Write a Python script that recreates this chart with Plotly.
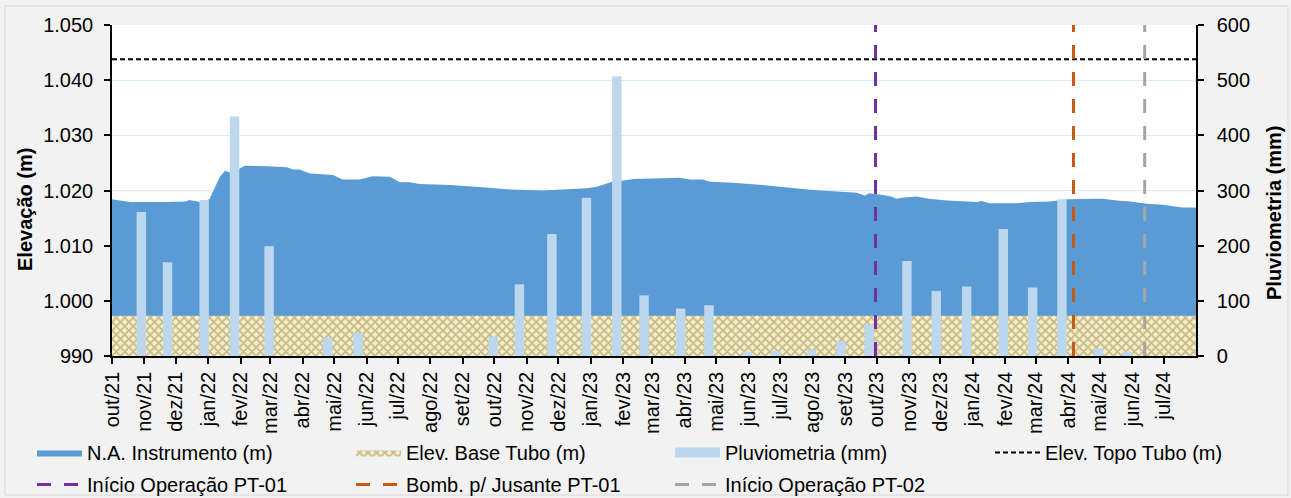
import plotly.graph_objects as go

# --- Nível d'água no instrumento (m) ---
na_dates = [
    "2021-10-01", "2021-10-18", "2021-11-22", "2021-12-02", "2021-12-10", "2021-12-14",
    "2021-12-24", "2022-01-02", "2022-01-12", "2022-01-17", "2022-01-21", "2022-01-28",
    "2022-02-05", "2022-02-26", "2022-03-17", "2022-03-23", "2022-03-29", "2022-04-08",
    "2022-04-30", "2022-05-09", "2022-05-25", "2022-06-07", "2022-06-23", "2022-07-03",
    "2022-07-12", "2022-07-22", "2022-08-20", "2022-09-20", "2022-10-16", "2022-11-16",
    "2022-12-02", "2022-12-28", "2023-01-07", "2023-01-20", "2023-02-11", "2023-03-15",
    "2023-03-27", "2023-04-06", "2023-04-18", "2023-04-25", "2023-05-17", "2023-06-14",
    "2023-07-03", "2023-08-01", "2023-09-05", "2023-09-12", "2023-09-20", "2023-09-24",
    "2023-10-07", "2023-10-15", "2023-10-20", "2023-10-25", "2023-11-08", "2023-11-20",
    "2023-12-07", "2023-12-22", "2024-01-05", "2024-01-09", "2024-01-17", "2024-02-12",
    "2024-02-24", "2024-03-14", "2024-03-31", "2024-04-28", "2024-05-04", "2024-05-17",
    "2024-05-30", "2024-06-15", "2024-06-30", "2024-07-19", "2024-08-01",
]
na_values = [
    1018.4, 1017.9, 1017.9, 1018.0, 1018.0, 1018.3,
    1017.9, 1018.4, 1022.5, 1023.6, 1023.3, 1023.7,
    1024.5, 1024.4, 1024.2, 1023.8, 1023.8, 1023.1,
    1022.8, 1022.0, 1022.0, 1022.6, 1022.5, 1021.5,
    1021.5, 1021.2, 1021.0, 1020.6, 1020.2, 1020.0,
    1020.2, 1020.4, 1020.7, 1021.5, 1022.1, 1022.2,
    1022.3, 1022.0, 1022.0, 1021.6, 1021.4, 1021.0,
    1020.6, 1020.1, 1019.7, 1019.6, 1019.1, 1019.5,
    1019.2, 1018.9, 1018.5, 1018.7, 1018.9, 1018.5,
    1018.2, 1018.0, 1017.9, 1018.1, 1017.7, 1017.7,
    1017.9, 1018.0, 1018.4, 1018.5, 1018.5, 1018.2,
    1018.0, 1017.6, 1017.4, 1016.9, 1016.9,
]

# --- Pluviometria mensal (mm) ---
rain_dates = [
    "2021-10-29", "2021-11-23", "2021-12-28", "2022-01-26", "2022-02-28", "2022-04-25",
    "2022-05-24", "2022-09-30", "2022-10-25", "2022-11-25", "2022-12-28", "2023-01-26",
    "2023-02-21", "2023-03-28", "2023-04-24", "2023-05-31", "2023-06-27", "2023-07-31",
    "2023-08-28", "2023-09-24", "2023-10-30", "2023-11-27", "2023-12-26", "2024-01-30",
    "2024-02-27", "2024-03-26", "2024-04-30", "2024-05-27",
]
rain_values = [
    261, 170, 283, 434, 199, 33,
    42, 35, 130, 221, 287, 507,
    110, 86, 92, 8, 9, 11,
    27, 57, 172, 118, 126, 230,
    124, 284, 14, 8,
]

# --- Cotas do tubo (m) ---
period = ["2021-10-01", "2024-08-01"]
base_tubo = 997.3
topo_tubo = 1043.8

# --- Eventos ---
evt_pt01 = "2023-09-30"
evt_bomb = "2024-04-06"
evt_pt02 = "2024-06-13"

# --- Rótulos do eixo x ---
month_abbr = ["jan", "fev", "mar", "abr", "mai", "jun", "jul", "ago", "set", "out", "nov", "dez"]
tick_vals = []
tick_text = []
y, m = 2021, 10
while (y, m) <= (2024, 7):
    tick_vals.append(f"{y}-{m:02d}-01")
    tick_text.append(f"{month_abbr[m - 1]}/{str(y)[2:]}")
    m += 1
    if m > 12:
        m, y = 1, y + 1

FONT = "Liberation Sans, Arial, sans-serif"
DAY_MS = 86400000
RAIN_COLOR = "#BDD7EE"

fig = go.Figure()

fig.add_trace(go.Scatter(
    x=na_dates, y=na_values, name="N.A. Instrumento (m)",
    mode="lines", fill="tozeroy", fillcolor="#5B9BD5",
    line=dict(width=0, color="#5B9BD5"), yaxis="y", legend="legend",
))
fig.add_trace(go.Scatter(
    x=period, y=[base_tubo, base_tubo], name="Elev. Base Tubo (m)",
    mode="lines", fill="tozeroy", fillcolor="#EFE3AA",
    fillpattern=dict(shape="x", fgcolor="#8C8266", bgcolor="#F9EFBE", size=6, solidity=0.5),
    line=dict(width=0, color="#EFE3AA"), yaxis="y", legend="legend",
))
fig.add_trace(go.Bar(
    x=rain_dates, y=rain_values, name="Pluviometria (mm)",
    marker=dict(color=RAIN_COLOR, line=dict(width=0)),
    width=[9 * DAY_MS] * len(rain_dates), yaxis="y2",
    legendgroup="pluv", showlegend=False,
))
# legend key for the rainfall bars (wide swatch)
fig.add_trace(go.Scatter(
    x=[None], y=[None], name="Pluviometria (mm)", mode="lines",
    line=dict(color=RAIN_COLOR, width=18), yaxis="y2",
    legendgroup="pluv", legend="legend",
))
fig.add_trace(go.Scatter(
    x=period, y=[topo_tubo, topo_tubo], name="Elev. Topo Tubo (m)",
    mode="lines", line=dict(color="black", width=2, dash="5px,3px"), yaxis="y",
    legend="legend2",
))
for name, date, color in [
    ("Início Operação PT-01", evt_pt01, "#7030A0"),
    ("Bomb. p/ Jusante PT-01", evt_bomb, "#C55A11"),
    ("Início Operação PT-02", evt_pt02, "#A5A5A5"),
]:
    fig.add_trace(go.Scatter(
        x=[date, date], y=[0, 600], name=name, mode="lines",
        line=dict(color=color, width=3, dash="14px,13px"), yaxis="y2",
        legend="legend3",
    ))

axis_common = dict(
    showline=True, linecolor="black", linewidth=1.5,
    ticks="outside", ticklen=6, tickcolor="black", tickwidth=1.5,
    tickfont=dict(family=FONT, size=20, color="black"),
    zeroline=False, automargin=False,
)

legend_common = dict(
    orientation="h", xref="container", yref="container",
    xanchor="left", yanchor="top",
    entrywidth=259, entrywidthmode="pixels", itemwidth=45,
    font=dict(family=FONT, size=20, color="black"),
    bgcolor="rgba(0,0,0,0)", traceorder="normal",
)

fig.update_layout(
    width=1291, height=498,
    margin=dict(l=112, r=95, t=25, b=142),
    paper_bgcolor="#F2F2F2", plot_bgcolor="white",
    separators=",.",
    font=dict(family=FONT, size=20, color="black"),
    barmode="overlay",
    showlegend=True,
    xaxis=dict(
        type="date", range=period,
        tickmode="array", tickvals=tick_vals, ticktext=tick_text,
        tickangle=-90, showgrid=False,
        **axis_common,
    ),
    yaxis=dict(
        range=[990, 1050], dtick=10, tickformat=",d",
        showgrid=True, gridcolor="#DDEBF7", gridwidth=1,
        ticklabelstandoff=7,
        **axis_common,
    ),
    yaxis2=dict(
        range=[0, 600], dtick=100, overlaying="y", side="right",
        showgrid=False, ticklabelstandoff=9,
        **axis_common,
    ),
    legend=dict(x=32 / 1291, y=1 - 433 / 498, **legend_common),
    legend2=dict(x=990 / 1291, y=1 - 433 / 498, **legend_common),
    legend3=dict(x=32 / 1291, y=1 - 465 / 498, **legend_common),
    annotations=[
        dict(text="<b>Elevação (m)</b>", textangle=-90, xref="paper", yref="paper",
             x=(25 - 112) / 1084, y=(356 - 210) / 331, xanchor="center", yanchor="middle",
             showarrow=False, font=dict(family=FONT, size=20)),
        dict(text="<b>Pluviometria (mm)</b>", textangle=-90, xref="paper", yref="paper",
             x=(1274 - 112) / 1084, y=(356 - 213) / 331, xanchor="center", yanchor="middle",
             showarrow=False, font=dict(family=FONT, size=20)),
    ],
    shapes=[
        dict(type="rect", xref="paper", yref="paper",
             x0=(5 - 112) / 1084, x1=(1288 - 112) / 1084,
             y0=(356 - 495) / 331, y1=(356 - 6) / 331,
             line=dict(color="#D9D9D9", width=1), fillcolor="rgba(0,0,0,0)", layer="below"),
    ],
)

fig.write_html("out.html")
